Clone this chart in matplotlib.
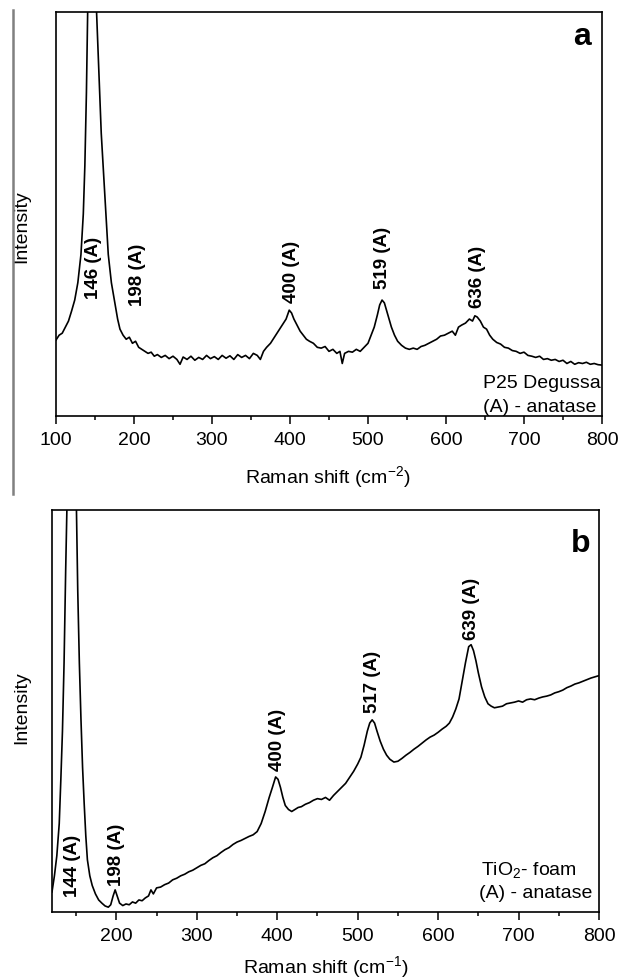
import numpy as np
import matplotlib
matplotlib.use('Agg')
import matplotlib.pyplot as plt
from matplotlib.lines import Line2D
from matplotlib.ticker import MultipleLocator

plt.rcParams['font.family'] = ['Liberation Sans', 'DejaVu Sans']
plt.rcParams['mathtext.fontset'] = 'custom'
plt.rcParams['mathtext.rm'] = 'Liberation Sans'
plt.rcParams['mathtext.it'] = 'Liberation Sans:italic'
plt.rcParams['mathtext.bf'] = 'Liberation Sans:bold'

# panel a - P25 Degussa (intensity normalised to the plot height)
shift_a = [100, 104, 108, 112, 116, 120, 124, 128, 132, 135, 137, 139, 141, 146, 151, 155, 158, 161, 164, 167,
           171, 175, 179, 182, 186, 190, 194, 198, 202, 206, 210, 214, 218, 222, 226, 230, 235, 240, 245, 250,
           255, 259, 263, 268, 273, 278, 283, 288, 293, 298, 303, 308, 313, 318, 323, 328, 333, 338, 343, 348,
           353, 358, 362, 366, 370, 375, 380, 385, 390, 395, 399, 402, 405, 409, 413, 417, 421, 425, 430, 435,
           440, 445, 450, 455, 460, 464, 467, 470, 475, 480, 485, 490, 495, 500, 504, 508, 512, 515, 518, 521,
           524, 527, 530, 534, 538, 543, 548, 553, 558, 563, 568, 573, 578, 583, 588, 593, 598, 603, 608, 612,
           616, 620, 625, 630, 634, 637, 640, 644, 648, 652, 656, 660, 665, 670, 675, 680, 685, 690, 695, 700,
           705, 710, 715, 720, 725, 730, 735, 740, 745, 750, 755, 760, 765, 770, 775, 780, 785, 790, 795, 800]
int_a = [0.188, 0.200, 0.205, 0.220, 0.235, 0.260, 0.287, 0.330, 0.400, 0.500, 0.620, 0.800, 1.050, 1.600, 1.050, 0.850, 0.700, 0.600, 0.500, 0.400,
         0.330, 0.285, 0.240, 0.215, 0.200, 0.190, 0.195, 0.180, 0.185, 0.170, 0.165, 0.160, 0.155, 0.158, 0.148, 0.152, 0.145, 0.150, 0.142, 0.148,
         0.140, 0.128, 0.146, 0.140, 0.148, 0.138, 0.145, 0.140, 0.150, 0.142, 0.147, 0.140, 0.150, 0.143, 0.149, 0.140, 0.152, 0.145, 0.150, 0.142,
         0.155, 0.150, 0.140, 0.160, 0.170, 0.180, 0.195, 0.210, 0.225, 0.240, 0.262, 0.255, 0.240, 0.225, 0.210, 0.200, 0.190, 0.185, 0.180, 0.170,
         0.168, 0.172, 0.160, 0.165, 0.155, 0.160, 0.130, 0.155, 0.160, 0.158, 0.165, 0.160, 0.170, 0.180, 0.200, 0.220, 0.250, 0.275, 0.287, 0.280,
         0.260, 0.240, 0.220, 0.200, 0.185, 0.175, 0.168, 0.165, 0.168, 0.165, 0.172, 0.175, 0.180, 0.185, 0.190, 0.198, 0.200, 0.205, 0.210, 0.200,
         0.220, 0.225, 0.230, 0.240, 0.235, 0.248, 0.245, 0.235, 0.220, 0.215, 0.200, 0.190, 0.182, 0.178, 0.170, 0.168, 0.162, 0.160, 0.155, 0.158,
         0.150, 0.148, 0.145, 0.148, 0.140, 0.142, 0.138, 0.140, 0.135, 0.138, 0.130, 0.135, 0.128, 0.132, 0.130, 0.133, 0.128, 0.130, 0.127, 0.126]

# panel b - TiO2 foam
shift_b = [120, 123, 126, 129, 131, 133, 135, 137, 139, 144, 150, 152, 154, 156, 158, 160, 162, 164, 167, 170,
           174, 178, 182, 186, 190, 193, 196, 198.5, 201, 204, 208, 212, 216, 220, 224, 228, 232, 236, 240, 243,
           246, 250, 255, 260, 265, 270, 275, 280, 285, 290, 295, 300, 305, 310, 315, 320, 325, 330, 335, 340,
           345, 350, 355, 360, 365, 370, 375, 380, 385, 390, 394, 398, 401, 404, 407, 410, 414, 418, 422, 426,
           430, 435, 440, 445, 450, 455, 460, 465, 470, 475, 480, 485, 490, 495, 500, 504, 508, 512, 515, 518,
           521, 524, 528, 532, 536, 540, 545, 550, 555, 560, 565, 570, 575, 580, 585, 590, 595, 600, 605, 610,
           614, 618, 622, 626, 630, 634, 638, 641, 644, 647, 650, 654, 658, 662, 666, 670, 675, 680, 685, 690,
           695, 700, 705, 710, 715, 720, 725, 730, 735, 740, 745, 750, 755, 760, 765, 770, 775, 780, 785, 790,
           795, 800]
int_b = [0.050, 0.090, 0.140, 0.220, 0.330, 0.450, 0.620, 0.850, 1.050, 1.800, 1.050, 0.800, 0.620, 0.480, 0.360, 0.270, 0.190, 0.130, 0.090, 0.066,
         0.045, 0.030, 0.022, 0.015, 0.012, 0.018, 0.040, 0.055, 0.040, 0.022, 0.016, 0.020, 0.018, 0.025, 0.022, 0.030, 0.028, 0.035, 0.040, 0.055,
         0.045, 0.060, 0.062, 0.068, 0.072, 0.080, 0.084, 0.090, 0.094, 0.100, 0.104, 0.110, 0.116, 0.120, 0.128, 0.135, 0.140, 0.148, 0.155, 0.160,
         0.168, 0.174, 0.178, 0.183, 0.188, 0.192, 0.200, 0.220, 0.250, 0.285, 0.310, 0.336, 0.330, 0.310, 0.285, 0.265, 0.255, 0.250, 0.255, 0.260,
         0.262, 0.268, 0.272, 0.278, 0.282, 0.280, 0.285, 0.278, 0.290, 0.300, 0.310, 0.320, 0.335, 0.350, 0.368, 0.385, 0.415, 0.450, 0.470, 0.478,
         0.470, 0.450, 0.425, 0.405, 0.390, 0.380, 0.373, 0.375, 0.382, 0.390, 0.397, 0.405, 0.412, 0.420, 0.428, 0.435, 0.440, 0.447, 0.455, 0.462,
         0.470, 0.485, 0.505, 0.530, 0.575, 0.620, 0.660, 0.665, 0.650, 0.625, 0.595, 0.560, 0.535, 0.518, 0.512, 0.508, 0.510, 0.512, 0.518, 0.520,
         0.522, 0.525, 0.522, 0.528, 0.530, 0.528, 0.532, 0.535, 0.537, 0.540, 0.545, 0.548, 0.552, 0.558, 0.562, 0.567, 0.570, 0.574, 0.578, 0.582,
         0.585, 0.588]

# peak labels: wavenumber, text x position, y where text starts
peaks_a = [146, 198, 400, 519, 636]
peak_x_a = [148.5, 205, 402, 518.5, 640]
peak_y_a = [0.291, 0.275, 0.283, 0.316, 0.270]
peaks_b = [144, 198, 400, 517, 639]
peak_x_b = [145.5, 200.5, 400.6, 518, 641]
peak_y_b = [0.040, 0.066, 0.353, 0.498, 0.680]

fig = plt.figure(figsize=(6.19, 9.79), dpi=100)
ax_a = fig.add_axes([56/619, 1-417/979, 546/619, 404/979])
ax_b = fig.add_axes([52/619, 1-913/979, 547/619, 402/979])

fs = 14


def style(ax, xmin):
    ax.set_xlim(xmin, 800)
    ax.set_ylim(0, 1)
    ax.set_yticks([])
    ax.xaxis.set_major_locator(MultipleLocator(100))
    ax.xaxis.set_minor_locator(MultipleLocator(50))
    ax.tick_params(axis='x', which='major', direction='out', length=6, width=1.1, labelsize=fs, pad=5)
    ax.tick_params(axis='x', which='minor', direction='out', length=3, width=1.1)
    for s in ax.spines.values():
        s.set_linewidth(1.2)


ax_a.plot(shift_a, int_a, color='black', lw=1.2)
style(ax_a, 100)
for p, x, y in zip(peaks_a, peak_x_a, peak_y_a):
    ax_a.text(x, y, '{} (A)'.format(p), rotation=90, ha='center', va='bottom',
              fontsize=13.5, fontweight='bold')
ax_a.text(0.98, 0.921, 'a', transform=ax_a.transAxes, ha='right', va='baseline',
          fontsize=23, fontweight='bold')
ax_a.text(0.997, 0.072, 'P25 Degussa', transform=ax_a.transAxes, ha='right', va='baseline', fontsize=fs)
ax_a.text(0.99, 0.012, '(A) - anatase', transform=ax_a.transAxes, ha='right', va='baseline', fontsize=fs)
ax_a.text(-0.0623, 0.47, 'Intensity', transform=ax_a.transAxes, rotation=90, ha='center', va='center', fontsize=fs)
ax_a.text(0.498, -0.1485, 'Raman shift (cm$^{-2}$)', transform=ax_a.transAxes, ha='center', va='center', fontsize=fs)

ax_b.plot(shift_b, int_b, color='black', lw=1.2)
style(ax_b, 120)
for p, x, y in zip(peaks_b, peak_x_b, peak_y_b):
    ax_b.text(x, y, '{} (A)'.format(p), rotation=90, ha='center', va='bottom',
              fontsize=13.5, fontweight='bold')
ax_b.text(0.984, 0.898, 'b', transform=ax_b.transAxes, ha='right', va='baseline',
          fontsize=23, fontweight='bold')
ax_b.text(0.872, 0.0945, 'TiO$_2$- foam', transform=ax_b.transAxes, ha='center', va='baseline', fontsize=fs)
ax_b.text(0.884, 0.037, '(A) - anatase', transform=ax_b.transAxes, ha='center', va='baseline', fontsize=fs)
ax_b.text(-0.055, 0.512, 'Intensity', transform=ax_b.transAxes, rotation=90, ha='center', va='center', fontsize=fs)
ax_b.text(0.5, -0.134, 'Raman shift (cm$^{-1}$)', transform=ax_b.transAxes, ha='center', va='center', fontsize=fs)

# grey page rule on the left of the top panel
fig.add_artist(Line2D([13/619, 13/619], [1-11/979, 1-495/979], color='#808080', lw=1.8))

fig.savefig('out.png', dpi=100)
